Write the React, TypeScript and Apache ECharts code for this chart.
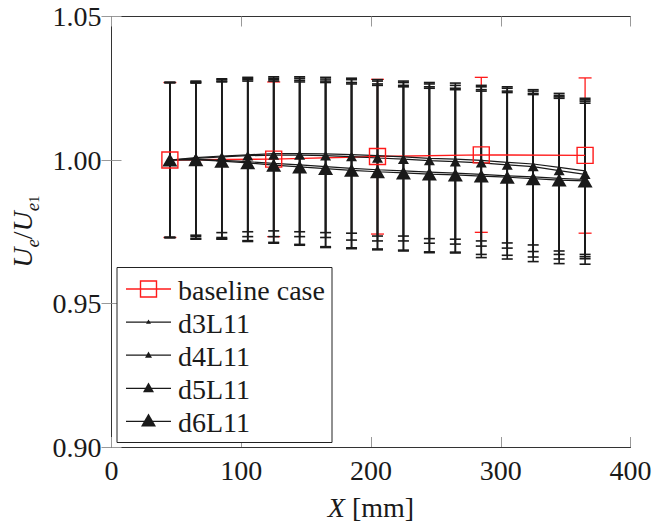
import React, { useEffect, useRef } from 'react';
import * as echarts from 'echarts';

const xPositions = [45, 65, 85, 105, 125, 145, 165, 185, 205, 225, 245, 265, 285, 305, 325, 345, 365];
const xTicks = [0, 100, 200, 300, 400];
const yTicks = [0.9, 0.95, 1.0, 1.05];

const baselineX = [45, 125, 205, 285, 365];
const baselineValues = [1.0, 1.0003, 1.0012, 1.0018, 1.0016];
const baselineLower = [0.973, 0.9733, 0.9742, 0.9748, 0.9745];
const baselineUpper = [1.027, 1.0272, 1.0281, 1.0288, 1.0286];

const d3Values = [1.0, 1.0008, 1.0014, 1.0018, 1.0022, 1.0022, 1.0021, 1.0019, 1.0015, 1.0011, 1.0006, 1.0003, 0.9999, 0.9992, 0.9986, 0.9974, 0.9962];
const d3Lower = [0.973, 0.9738, 0.9747, 0.975, 0.9753, 0.975, 0.9747, 0.9745, 0.9735, 0.9735, 0.9726, 0.9724, 0.9718, 0.9711, 0.9704, 0.9683, 0.9671];
const d3Upper = [1.027, 1.0275, 1.0283, 1.0288, 1.029, 1.029, 1.0288, 1.0285, 1.028, 1.0275, 1.027, 1.0268, 1.026, 1.0255, 1.0245, 1.0232, 1.0215];

const d4Values = [1.0, 1.0002, 0.9999, 0.9994, 0.9988, 0.9983, 0.9977, 0.9971, 0.9966, 0.9962, 0.9958, 0.9954, 0.995, 0.9945, 0.9941, 0.9936, 0.9932];
const d4Lower = [0.973, 0.9726, 0.9726, 0.9719, 0.9713, 0.9706, 0.9698, 0.9694, 0.969, 0.9686, 0.968, 0.9679, 0.9671, 0.9668, 0.9662, 0.9655, 0.9656];
const d4Upper = [1.027, 1.027, 1.0275, 1.028, 1.028, 1.0278, 1.0275, 1.027, 1.0265, 1.026, 1.0255, 1.025, 1.0245, 1.024, 1.0232, 1.022, 1.0205];

const d5Values = [1.0, 1.0006, 1.0011, 1.0015, 1.0017, 1.0017, 1.0015, 1.0012, 1.0007, 1.0003, 0.9998, 0.9994, 0.999, 0.9983, 0.9977, 0.9963, 0.995];
const d5Lower = [0.973, 0.9733, 0.973, 0.9733, 0.9733, 0.9733, 0.973, 0.9721, 0.9718, 0.9718, 0.971, 0.9707, 0.97, 0.9693, 0.9681, 0.9671, 0.9663];
const d5Upper = [1.027, 1.0272, 1.028, 1.0284, 1.0285, 1.0285, 1.0282, 1.028, 1.0275, 1.027, 1.0265, 1.026, 1.0255, 1.025, 1.024, 1.0225, 1.021];

const d6Values = [1.0, 1.0001, 0.9996, 0.999, 0.9982, 0.9976, 0.997, 0.9964, 0.9959, 0.9955, 0.9951, 0.9948, 0.9944, 0.994, 0.9935, 0.993, 0.9927];
const d6Lower = [0.973, 0.9724, 0.9724, 0.9716, 0.971, 0.9703, 0.9695, 0.9691, 0.9687, 0.9683, 0.9677, 0.9676, 0.966, 0.9655, 0.9646, 0.9639, 0.9637];
const d6Upper = [1.027, 1.0268, 1.0272, 1.0275, 1.0275, 1.0272, 1.027, 1.0265, 1.026, 1.0255, 1.025, 1.0245, 1.024, 1.0235, 1.0228, 1.0215, 1.0198];

const FONT = 'Liberation Serif';
const RED = '#ff1a1a';
const BLACK = '#1a1a1a';
const TEXT = '#1a1a1a';

function errorSeries(name: string, xs: number[], lo: number[], hi: number[], color: string, cap: number, width: number) {
  return {
    type: 'custom',
    name,
    silent: true,
    xAxisIndex: 0,
    yAxisIndex: 0,
    data: xs.map((x, i) => [x, lo[i], hi[i]]),
    encode: { x: 0, y: [1, 2] },
    renderItem: (params: any, api: any) => {
      const x = api.value(0);
      const pLo = api.coord([x, api.value(1)]);
      const pHi = api.coord([x, api.value(2)]);
      const style = { stroke: color, lineWidth: width };
      return {
        type: 'group',
        children: [
          { type: 'line', shape: { x1: pLo[0], y1: pLo[1], x2: pHi[0], y2: pHi[1] }, style },
          { type: 'line', shape: { x1: pLo[0] - cap / 2, y1: pLo[1], x2: pLo[0] + cap / 2, y2: pLo[1] }, style },
          { type: 'line', shape: { x1: pHi[0] - cap / 2, y1: pHi[1], x2: pHi[0] + cap / 2, y2: pHi[1] }, style },
        ],
      };
    },
  };
}

function lineSeries(name: string, xs: number[], ys: number[], color: string, symbol: string, size: any, width: number, hollow = false) {
  return {
    type: 'line',
    name,
    data: xs.map((x, i) => [x, ys[i]]),
    symbol,
    symbolSize: size,
    showSymbol: true,
    lineStyle: { color, width },
    itemStyle: hollow
      ? { color: 'rgba(255,255,255,0)', borderColor: color, borderWidth: 1.4 }
      : { color, borderWidth: 0 },
    silent: true,
  };
}

export default function App() {
  const ref = useRef<HTMLDivElement>(null);
  useEffect(() => {
    document.body.style.margin = '0';
    const el = ref.current!;
    const chart = echarts.init(el, undefined, { renderer: 'svg' });

    const legendItems = [
      { label: 'baseline case', kind: 'square', color: RED, size: 16 },
      { label: 'd3L11', kind: 'tri', color: BLACK, size: 5 },
      { label: 'd4L11', kind: 'tri', color: BLACK, size: 7 },
      { label: 'd5L11', kind: 'tri', color: BLACK, size: 11 },
      { label: 'd6L11', kind: 'tri', color: BLACK, size: 15 },
    ];
    const lx0 = 126, lx1 = 171, lcx = 148.5, ltx = 178, ly0 = 289, lgap = 33.1;
    const legendChildren: any[] = [
      { type: 'rect', z: 100, shape: { x: 117, y: 267.5, width: 215, height: 175 }, style: { fill: '#fff', stroke: '#222', lineWidth: 1 } },
    ];
    legendItems.forEach((it, i) => {
      const y = ly0 + i * lgap;
      legendChildren.push({ type: 'line', z: 101, shape: { x1: lx0, y1: y, x2: lx1, y2: y }, style: { stroke: it.color, lineWidth: it.kind === 'square' ? 1.4 : 1.2 } });
      if (it.kind === 'square') {
        legendChildren.push({ type: 'rect', z: 102, shape: { x: lcx - it.size / 2, y: y - it.size / 2, width: it.size, height: it.size }, style: { fill: 'rgba(255,255,255,0)', stroke: it.color, lineWidth: 1.4 } });
      } else {
        const w = it.size, h = it.size * 0.87;
        legendChildren.push({ type: 'polygon', z: 102, shape: { points: [[lcx, y - h * 0.6], [lcx + w / 2, y + h * 0.4], [lcx - w / 2, y + h * 0.4]] }, style: { fill: it.color } });
      }
      legendChildren.push({ type: 'text', z: 102, x: ltx, y: y + 1, style: { text: it.label, fontFamily: FONT, fontSize: 28, fill: TEXT, verticalAlign: 'middle', align: 'left' } });
    });

    const axisCommon = {
      type: 'value',
      splitLine: { show: false },
      axisLine: { show: true, lineStyle: { color: '#333', width: 1 } },
      axisTick: { show: true, inside: true, length: 10, lineStyle: { color: '#999', width: 1 } },
    };

    chart.setOption({
      animation: false,
      backgroundColor: '#fff',
      textStyle: { fontFamily: FONT },
      grid: { left: 111.5, right: 22.5, top: 16.5, bottom: 75, containLabel: false, outerBoundsMode: 'none' },
      xAxis: [
        {
          ...axisCommon,
          position: 'bottom',
          min: xTicks[0],
          max: xTicks[xTicks.length - 1],
          interval: 100,
          axisLabel: { show: true, margin: 9, fontFamily: FONT, fontSize: 28, color: TEXT },
          name: '{i|X} [mm]',
          nameLocation: 'middle',
          nameGap: 46,
          nameTextStyle: {
            fontFamily: FONT, fontSize: 28, color: TEXT,
            rich: {
              i: { fontFamily: FONT, fontSize: 28, fontStyle: 'italic', color: TEXT },
            },
          },
        },
        {
          ...axisCommon,
          position: 'top',
          min: xTicks[0],
          max: xTicks[xTicks.length - 1],
          interval: 100,
          axisLabel: { show: false },
        },
      ],
      yAxis: [
        {
          ...axisCommon,
          position: 'left',
          min: yTicks[0],
          max: yTicks[yTicks.length - 1],
          interval: 0.05,
          axisLabel: { show: true, margin: 10, fontFamily: FONT, fontSize: 28, color: TEXT, formatter: (v: number) => v.toFixed(2) },
          name: '{u|U}{s|e}{n|/}{u|U}{s|e}{ss|1}',
          nameLocation: 'middle',
          nameRotate: 90,
          nameGap: 68,
          nameTextStyle: {
            fontFamily: FONT, fontSize: 28, color: TEXT,
            rich: {
              u: { fontFamily: FONT, fontSize: 28, fontStyle: 'italic', color: TEXT, lineHeight: 38 },
              n: { fontFamily: FONT, fontSize: 28, color: TEXT, lineHeight: 38 },
              s: { fontFamily: FONT, fontSize: 19, fontStyle: 'italic', color: TEXT, lineHeight: 24, verticalAlign: 'bottom' },
              ss: { fontFamily: FONT, fontSize: 14, color: TEXT, lineHeight: 11, verticalAlign: 'bottom' },
            },
          },
        },
        {
          ...axisCommon,
          position: 'right',
          min: yTicks[0],
          max: yTicks[yTicks.length - 1],
          interval: 0.05,
          axisLabel: { show: false },
        },
      ],
      series: [
        errorSeries('baseline case err', baselineX, baselineLower, baselineUpper, RED, 13, 1.3),
        lineSeries('baseline case', baselineX, baselineValues, RED, 'rect', 16, 1.4, true),
        errorSeries('d3L11 err', xPositions, d3Lower, d3Upper, BLACK, 11, 1.6),
        errorSeries('d4L11 err', xPositions, d4Lower, d4Upper, BLACK, 11, 1.6),
        errorSeries('d5L11 err', xPositions, d5Lower, d5Upper, BLACK, 11, 1.6),
        errorSeries('d6L11 err', xPositions, d6Lower, d6Upper, BLACK, 11, 1.6),
        lineSeries('d3L11', xPositions, d3Values, BLACK, 'triangle', [5, 4.5], 1.2),
        lineSeries('d4L11', xPositions, d4Values, BLACK, 'triangle', [7, 6], 1.2),
        lineSeries('d5L11', xPositions, d5Values, BLACK, 'triangle', [11, 9.5], 1.2),
        lineSeries('d6L11', xPositions, d6Values, BLACK, 'triangle', [15, 13], 1.2),
      ],
      graphic: legendChildren,
    });

    return () => {
      chart.dispose();
    };
  }, []);
  return <div ref={ref} style={{ width: 653, height: 522 }} />;
}
